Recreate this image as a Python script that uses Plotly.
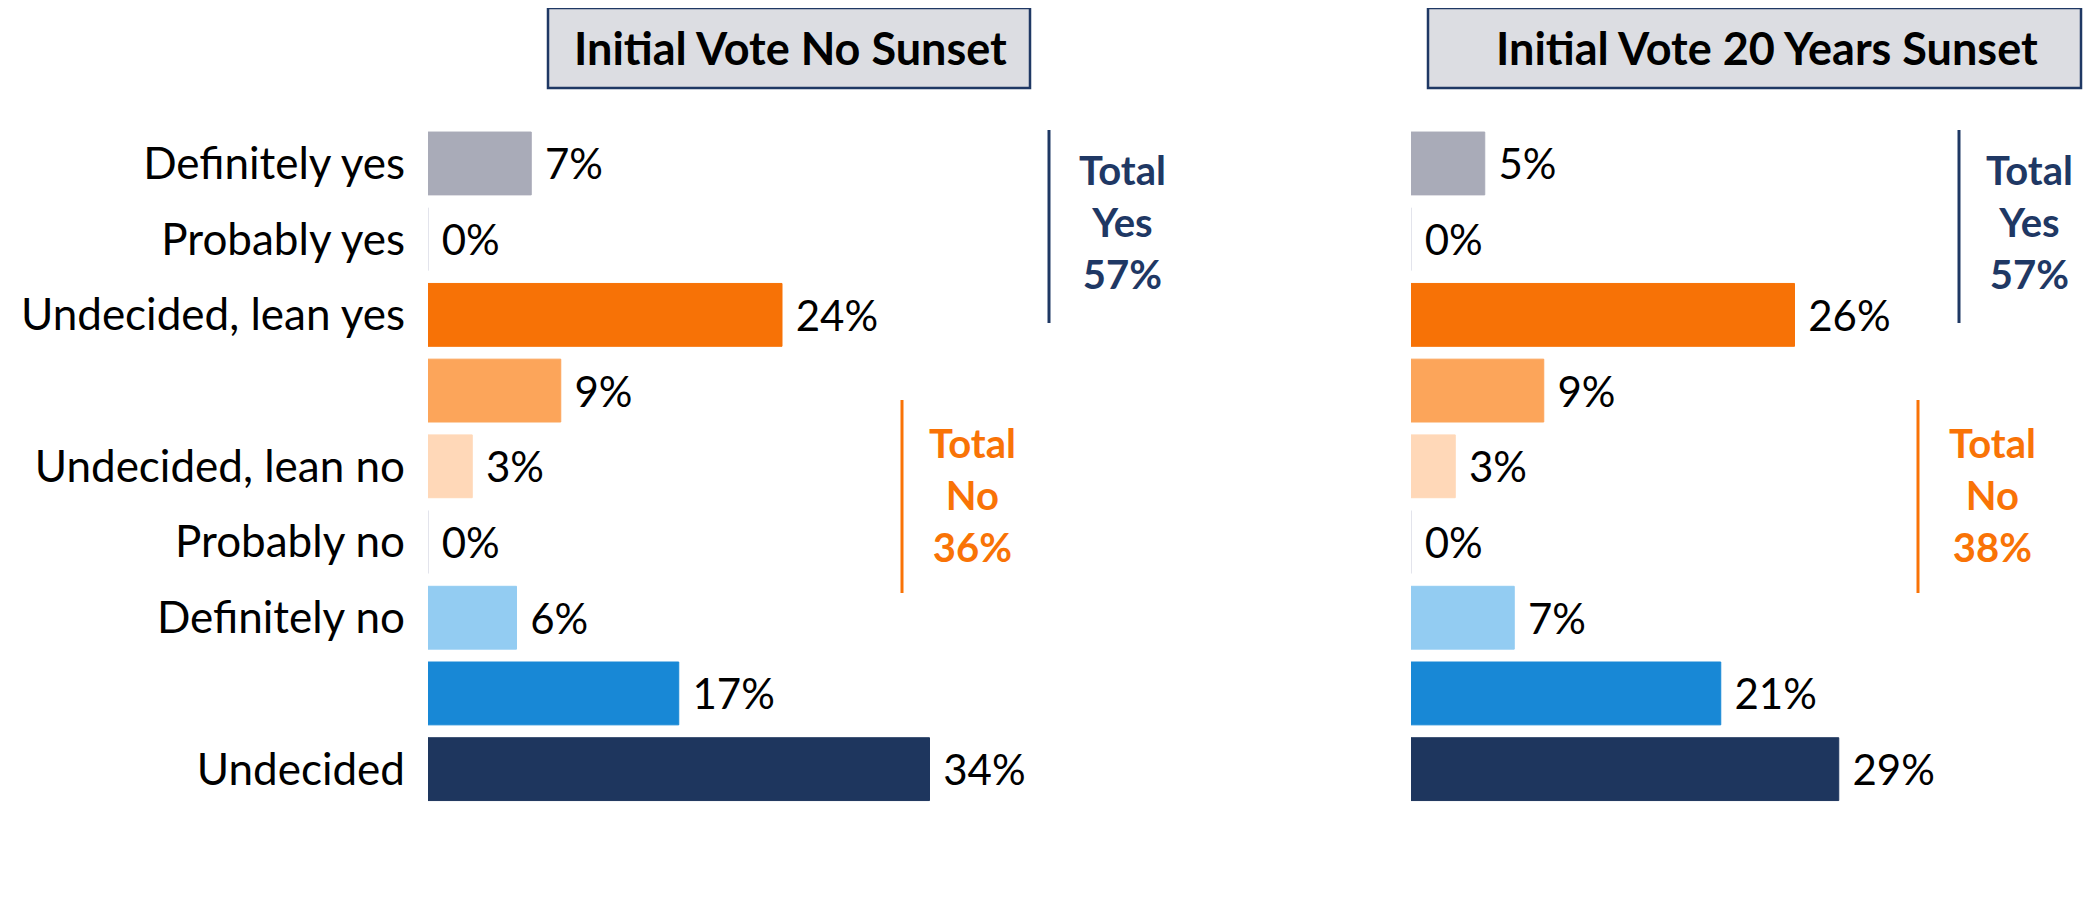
import plotly.graph_objects as go

# ---------------- data ----------------
categories = ["Definitely yes", "Probably yes", "Undecided, lean yes", "Undecided, leaning yes",
              "Undecided, lean no", "Probably no", "Definitely no", "Undecided, leaning no", "Undecided"]
tick_labels = ["Definitely yes", "Probably yes", "Undecided, lean yes", "",
               "Undecided, lean no", "Probably no", "Definitely no", "", "Undecided"]
no_sunset = [7, 0, 24, 9, 3, 0, 6, 17, 34]
sunset_20 = [5, 0, 26, 9, 3, 0, 7, 21, 29]
panel_titles = ["Initial Vote No Sunset", "Initial Vote 20 Years Sunset"]
total_yes = [57, 57]
total_no = [36, 38]

bar_colors = ["#A9ABB8", "#D9DCE6", "#F77206", "#FCA55A", "#FFD8B8",
              "#D9DCE6", "#93CCF2", "#1888D6", "#1E365E"]
NAVY = "#1F3864"
ORANGE = "#F97306"
FONT = "Lato"

W, H = 2092, 923
OFF = 8  # page body margin
def px(x):
    return (x - OFF) / W
def py(y):
    return 1 - (y - OFF) / H

pos = list(range(len(categories)))

fig = go.Figure()
for i, (vals, xa) in enumerate([(no_sunset, "x"), (sunset_20, "x2")]):
    fig.add_trace(go.Bar(
        y=pos, x=vals, orientation="h",
        xaxis=xa, yaxis="y" if i == 0 else "y2",
        marker=dict(color=bar_colors, line=dict(color=bar_colors, width=1)),
        text=[f" {v}%" for v in vals], textposition="outside",
        textfont=dict(family=FONT, size=42, color="#000000"),
        cliponaxis=False, hoverinfo="skip", showlegend=False,
    ))

ydom = [py(807), py(125.6)]
fig.update_layout(
    width=W, height=H,
    margin=dict(l=0, r=0, t=0, b=0),
    paper_bgcolor="white", plot_bgcolor="white",
    bargap=0.17,
    font=dict(family=FONT, color="#000000"),
    xaxis=dict(domain=[px(428), px(1018)], range=[0, 40], visible=False),
    xaxis2=dict(domain=[px(1411), px(2001)], range=[0, 40], visible=False),
    yaxis=dict(domain=ydom, range=[8.5, -0.5], anchor="x",
               tickvals=pos, ticktext=tick_labels, showgrid=False, zeroline=False,
               showline=False, ticks="", ticklabelstandoff=22,
               tickfont=dict(family=FONT, size=44, color="#000000")),
    yaxis2=dict(domain=ydom, range=[8.5, -0.5], anchor="x2",
                showticklabels=False, showgrid=False, zeroline=False, showline=False),
)

# title boxes
boxes = [(548, 1030, 790), (1428, 2081, 1767)]
shapes = []
annotations = []
for (x0, x1, xc), title in zip(boxes, panel_titles):
    shapes.append(dict(type="rect", xref="paper", yref="paper",
                       x0=px(x0), x1=px(x1), y0=py(88), y1=py(8),
                       fillcolor="#DCDDE2", line=dict(color=NAVY, width=2.5)))
    annotations.append(dict(xref="paper", yref="paper", x=px(xc), y=py(48),
                            text=f"<b>{title}</b>", showarrow=False,
                            xanchor="center", yanchor="middle",
                            font=dict(family=FONT, size=45, color="#000000")))

# totals
yes_line_x = [1049, 1959]
yes_text_x = [1122, 2029]
no_line_x = [902, 1918]
no_text_x = [972, 1992]
for k in range(2):
    shapes.append(dict(type="line", xref="paper", yref="paper",
                       x0=px(yes_line_x[k]), x1=px(yes_line_x[k]), y0=py(130), y1=py(323),
                       line=dict(color=NAVY, width=3)))
    shapes.append(dict(type="line", xref="paper", yref="paper",
                       x0=px(no_line_x[k]), x1=px(no_line_x[k]), y0=py(400), y1=py(593),
                       line=dict(color=ORANGE, width=3)))
    annotations.append(dict(xref="paper", yref="paper", x=px(yes_text_x[k]), y=py(222),
                            text=f"<b>Total<br>Yes<br>{total_yes[k]}%</b>", showarrow=False,
                            xanchor="center", yanchor="middle", align="center",
                            font=dict(family=FONT, size=40, color=NAVY)))
    annotations.append(dict(xref="paper", yref="paper", x=px(no_text_x[k]), y=py(495),
                            text=f"<b>Total<br>No<br>{total_no[k]}%</b>", showarrow=False,
                            xanchor="center", yanchor="middle", align="center",
                            font=dict(family=FONT, size=40, color=ORANGE)))

fig.update_layout(shapes=shapes, annotations=annotations)
fig.write_html("out.html")
